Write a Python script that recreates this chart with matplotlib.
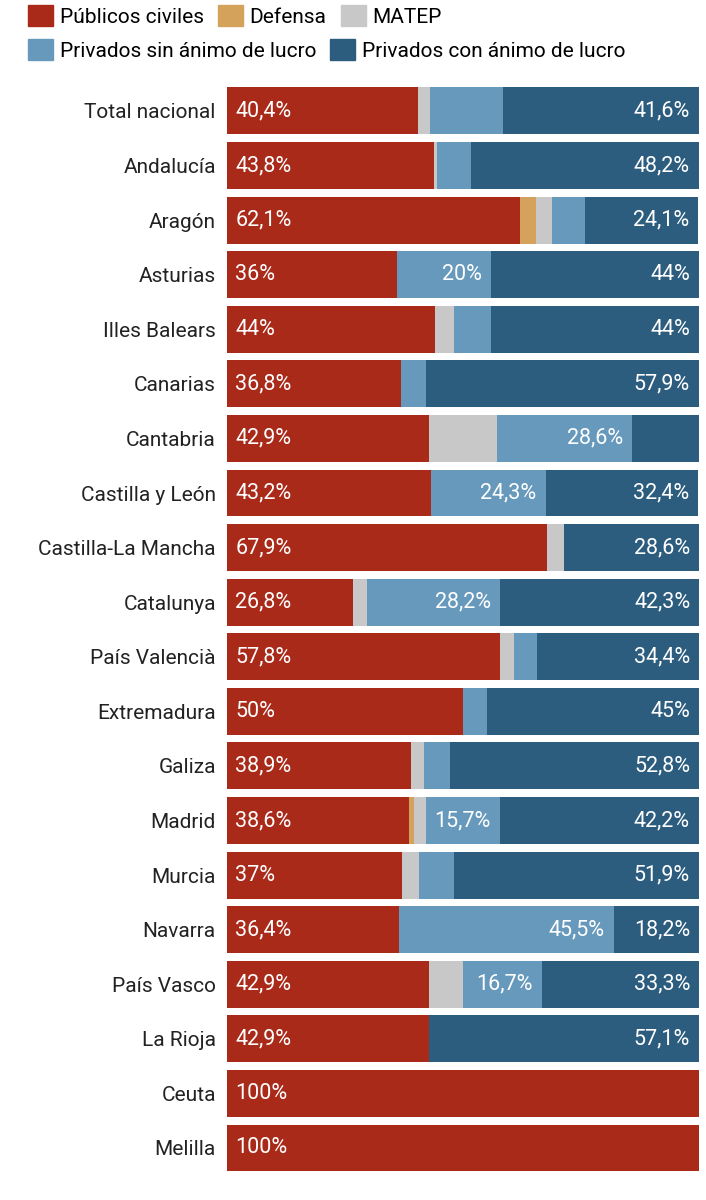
import numpy as np
import matplotlib.pyplot as plt
from matplotlib.patches import Patch

plt.rcParams['font.family'] = ['Roboto', 'DejaVu Sans']

# Comunidades
regiones = ['Total nacional', 'Andalucía', 'Aragón', 'Asturias', 'Illes Balears',
            'Canarias', 'Cantabria', 'Castilla y León', 'Castilla-La Mancha',
            'Catalunya', 'País Valencià', 'Extremadura', 'Galiza', 'Madrid',
            'Murcia', 'Navarra', 'País Vasco', 'La Rioja', 'Ceuta', 'Melilla']

# Porcentajes por tipo de titularidad
publicos = [40.4, 43.8, 62.1, 36, 44, 36.8, 42.9, 43.2, 67.9, 26.8, 57.8, 50, 38.9, 38.6, 37, 36.4, 42.9, 42.9, 100, 100]
defensa = [0, 0, 3.4, 0, 0, 0, 0, 0, 0, 0, 0, 0, 0, 1.1, 0, 0, 0, 0, 0, 0]
matep = [2.6, 0.8, 3.4, 0, 4, 0, 14.3, 0, 3.6, 2.8, 3.1, 0, 2.8, 2.4, 3.7, 0, 7.1, 0, 0, 0]
sin_lucro = [15.4, 7.2, 6.9, 20, 8, 5.3, 28.6, 24.3, 0, 28.2, 4.7, 5, 5.6, 15.7, 7.4, 45.5, 16.7, 0, 0, 0]
con_lucro = [41.6, 48.2, 24.1, 44, 44, 57.9, 14.3, 32.4, 28.6, 42.3, 34.4, 45, 52.8, 42.2, 51.9, 18.2, 33.3, 57.1, 0, 0]

series = [publicos, defensa, matep, sin_lucro, con_lucro]
nombres = ['Públicos civiles', 'Defensa', 'MATEP', 'Privados sin ánimo de lucro', 'Privados con ánimo de lucro']
colores = ['#aa2a1a', '#d4a25a', '#c8c8c8', '#6699bc', '#2c5c7e']


def fmt(v):
    s = ('%.1f' % v).rstrip('0').rstrip('.')
    return s.replace('.', ',') + '%'


fig = plt.figure(figsize=(7.06, 12), dpi=100)
ax = fig.add_axes([0.3215, 0.0206, 0.6685, 0.9097])

y = np.arange(len(regiones))
izq = np.zeros(len(regiones))
for k, (vals, nom, col) in enumerate(zip(series, nombres, colores)):
    vals = np.array(vals, dtype=float)
    ax.barh(y, vals, left=izq, height=0.86, color=col, label=nom, linewidth=0)
    for i, v in enumerate(vals):
        if k == 0:
            ax.annotate(fmt(v), (izq[i], y[i]), xytext=(6, 0), textcoords='offset points',
                        ha='left', va='center', color='white', fontsize=15.5)
        elif v >= 15.5:
            ax.annotate(fmt(v), (izq[i] + v, y[i]), xytext=(-6.5, 0), textcoords='offset points',
                        ha='right', va='center', color='white', fontsize=15.5)
    izq += vals

ax.set_xlim(0, 100)
ax.set_ylim(len(regiones) - 0.5, -0.5)
ax.set_yticks(y)
ax.set_yticklabels(regiones, fontsize=15, color='#222222')
ax.tick_params(axis='y', length=0, pad=8)
ax.set_xticks([])
for s in ax.spines.values():
    s.set_visible(False)

handles = [Patch(color=c, label=n) for c, n in zip(colores, nombres)]
opts = dict(loc='upper left', frameon=False, fontsize=15, handlelength=1.2, handleheight=1.2,
            handletextpad=0.33, columnspacing=0.67, borderpad=0, borderaxespad=0)
fig.legend(handles=handles[:3], bbox_to_anchor=(0.0397, 0.996), ncol=3, **opts)
fig.legend(handles=handles[3:], bbox_to_anchor=(0.0397, 0.9675), ncol=2, **opts)

fig.savefig('out.png', dpi=100)
